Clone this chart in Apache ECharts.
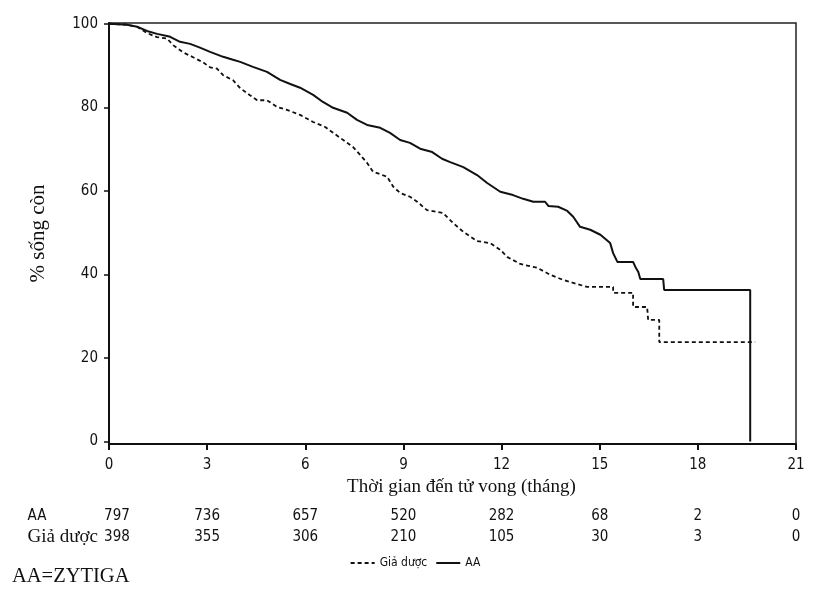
<!DOCTYPE html>
<html>
<head>
<meta charset="utf-8">
<script src="https://cdn.jsdelivr.net/npm/echarts@6/dist/echarts.min.js"></script>
<style>
html,body{margin:0;padding:0;background:#fff;}
#c{width:830px;height:599px;}
</style>
</head>
<body>
<div id="c"></div>
<script>
// Kaplan-Meier curves (months, % surviving)
var aaTime = [0,0.55,0.86,1.16,1.47,1.77,1.87,2.17,2.48,2.78,3.09,3.49,3.79,4.01,4.40,4.83,5.23,5.54,5.84,6.24,6.54,6.85,7.28,7.58,7.89,8.29,8.59,8.90,9.20,9.51,9.88,10.18,10.43,10.83,11.25,11.56,11.96,12.35,12.66,12.97,13.33,13.43,13.73,14.01,14.19,14.40,14.71,15.02,15.32,15.41,15.54,16.02,16.09,16.18,16.24,16.94,16.97,19.60,19.60];
var aaSurv = [100,99.8,99.3,98.3,97.6,97.1,96.9,95.7,95.2,94.3,93.3,92.1,91.4,90.9,89.7,88.5,86.6,85.6,84.7,83.0,81.3,79.9,78.7,77.0,75.8,75.1,73.9,72.2,71.5,70.1,69.3,67.7,66.9,65.7,63.8,61.9,59.8,59.0,58.1,57.4,57.4,56.4,56.2,55.2,53.8,51.4,50.7,49.5,47.5,45.1,43.0,43.0,41.8,40.6,38.9,38.9,36.3,36.3,0];
var pbTime = [0,0.55,0.86,1.16,1.47,1.77,1.96,2.26,2.57,2.87,3.09,3.30,3.49,3.79,4.01,4.31,4.53,4.83,5.14,5.44,5.84,6.24,6.61,6.85,7.16,7.46,7.68,7.89,8.07,8.50,8.69,8.90,9.20,9.42,9.72,10.21,10.52,10.83,11.25,11.65,11.96,12.17,12.57,13.09,13.49,13.88,14.31,14.62,15.41,15.41,16.02,16.02,16.45,16.48,16.82,16.82,19.75];
var pbSurv = [100,99.8,99.3,97.8,96.8,96.5,94.9,93.2,92.0,90.8,89.6,89.3,87.7,86.5,84.6,82.9,81.7,81.7,80.1,79.4,78.2,76.5,75.3,73.9,72.2,70.5,68.6,66.7,64.6,63.4,61.0,59.5,58.6,57.4,55.4,54.7,52.3,50.2,48.0,47.5,45.9,44.2,42.5,41.6,39.9,38.7,37.7,37.0,37.0,35.6,35.6,32.2,32.2,29.1,29.1,23.8,23.8];

var xTicks = [0,3,6,9,12,15,18,21];
var yTicks = [0,20,40,60,80,100];
var riskAA = [797,736,657,520,282,68,2,0];
var riskPB = [398,355,306,210,105,30,3,0];
var rowLabels = ['AA','Giả dược'];
var seriesNames = ['Giả dược','AA'];

function pairs(t, v){ return t.map(function(x,i){ return [x, v[i]]; }); }

var serif = '"Liberation Serif","DejaVu Serif",serif';
var sans = '"Liberation Sans Narrow","DejaVu Sans Condensed","Liberation Sans",sans-serif';

var chart = echarts.init(document.getElementById('c'), null, {renderer:'canvas'});
var option = {
  animation:false,
  backgroundColor:'#fff',
  grid:{left:109,right:34,top:23,bottom:155,show:true,borderColor:'#222',borderWidth:1.5,containLabel:false},
  xAxis:{
    type:'value',min:0,max:21,interval:3,
    name:'Thời gian đến tử vong (tháng)',nameLocation:'middle',nameGap:33,
    nameTextStyle:{fontFamily:serif,fontSize:19,color:'#111',padding:[0,0,0,18]},
    axisLine:{onZero:false,lineStyle:{color:'#111',width:2}},
    axisTick:{inside:false,length:6,lineStyle:{color:'#111',width:2}},
    axisLabel:{fontFamily:sans,fontSize:15,color:'#111',margin:14},
    splitLine:{show:false}
  },
  yAxis:{
    type:'value',min:-0.6,max:100.2,
    name:'% sống còn',nameLocation:'middle',nameGap:60,nameRotate:90,
    nameTextStyle:{fontFamily:serif,fontSize:21,color:'#111'},
    axisLine:{onZero:false,lineStyle:{color:'#111',width:2}},
    axisTick:{length:5,lineStyle:{color:'#111',width:1.5},customValues:yTicks},
    axisLabel:{fontFamily:sans,fontSize:15,color:'#111',margin:11,customValues:yTicks},
    splitLine:{show:false}
  },
  legend:{
    bottom:25,left:'center',
    itemWidth:24,itemHeight:4,itemGap:8,
    itemStyle:{opacity:0},
    textStyle:{fontFamily:sans,fontSize:12,color:'#111'},
    data:seriesNames
  },
  series:[
    {name:seriesNames[0],type:'line',data:pairs(pbTime,pbSurv),showSymbol:false,symbol:'none',
     lineStyle:{color:'#111',width:1.8,type:[4,3]},itemStyle:{color:'#111'}},
    {name:seriesNames[1],type:'line',data:pairs(aaTime,aaSurv),showSymbol:false,symbol:'none',
     lineStyle:{color:'#111',width:2,type:'solid'},itemStyle:{color:'#111'}}
  ]
};
chart.setOption(option);

// at-risk table placed through the axis scale
var g = [];
var rows = [riskAA, riskPB];
var rowY = [516, 537];
rows.forEach(function(r, ri){
  r.forEach(function(v, i){
    var px = chart.convertToPixel({xAxisIndex:0}, xTicks[i]);
    if(i===0) px += 8;
    g.push({type:'text',x:px,y:rowY[ri],style:{text:String(v),font:'15px '+sans,fill:'#111',align:'center',verticalAlign:'middle'}});
  });
});
g.push({type:'text',x:37,y:rowY[0],style:{text:rowLabels[0],font:'15px '+sans,fill:'#111',align:'center',verticalAlign:'middle'}});
g.push({type:'text',x:98,y:rowY[1],style:{text:rowLabels[1],font:'19px '+serif,fill:'#111',align:'right',verticalAlign:'middle'}});
g.push({type:'text',x:12,y:577,style:{text:'AA=ZYTIGA',font:'20.5px '+serif,fill:'#111',align:'left',verticalAlign:'middle'}});
chart.setOption({graphic:g});
</script>
</body>
</html>
